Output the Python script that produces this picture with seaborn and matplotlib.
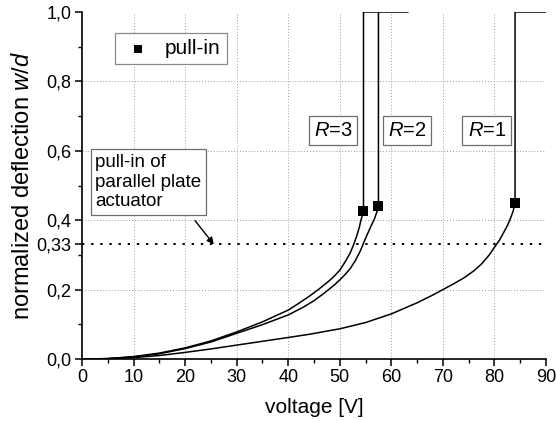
import matplotlib
matplotlib.use("Agg")
import matplotlib.pyplot as plt
import seaborn as sns
import pandas as pd
import numpy as np
from matplotlib.ticker import MultipleLocator, FixedLocator, FuncFormatter

# ---- data ----
v_r1 = [0, 5, 10, 15, 20, 25, 30, 35, 40, 44, 47, 50, 55, 60, 65, 68, 70, 72, 74, 76, 77.5, 79,
        80, 81, 81.7, 82.5, 83, 83.6, 84.0]
w_r1 = [0, 0.001, 0.004, 0.010, 0.019, 0.029, 0.040, 0.051, 0.062, 0.071, 0.079, 0.087, 0.105,
        0.130, 0.162, 0.184, 0.200, 0.216, 0.233, 0.254, 0.274, 0.300, 0.322, 0.343, 0.362,
        0.384, 0.401, 0.425, 0.449]
v_r2 = [0, 5, 10, 15, 20, 25, 30, 35, 40, 43, 45, 47, 49, 50, 51, 52, 53, 54, 54.5, 55.3,
        56.0, 56.7, 57.1, 57.4, 57.5]
w_r2 = [0, 0.001, 0.006, 0.015, 0.030, 0.049, 0.074, 0.099, 0.127, 0.150, 0.168, 0.190,
        0.214, 0.228, 0.243, 0.260, 0.283, 0.312, 0.330, 0.358, 0.381, 0.403, 0.420, 0.432,
        0.441]
v_r3 = [0, 5, 10, 15, 20, 25, 30, 35, 40, 42, 44, 46, 48, 49, 50, 51, 52, 52.7, 53.3,
        53.8, 54.1, 54.4, 54.6]
w_r3 = [0, 0.001, 0.007, 0.017, 0.032, 0.052, 0.078, 0.107, 0.141, 0.160, 0.180, 0.202,
        0.226, 0.240, 0.256, 0.279, 0.305, 0.330, 0.355, 0.380, 0.400, 0.415, 0.427]
# after pull-in the plate snaps to w/d = 1
top_end = {"R=1": 90.0, "R=2": 63.2, "R=3": 57.5}

series = ["R=1", "R=2", "R=3"]
pullin_v = [84.0, 57.5, 54.6]
pullin_w = [0.449, 0.441, 0.427]
label_v = [78.5, 63.0, 48.7]
label_w = 0.658

parallel_plate = 0.33
xticks = [0, 10, 20, 30, 40, 50, 60, 70, 80, 90]
yticks = [0.0, 0.2, 0.33, 0.4, 0.6, 0.8, 1.0]

# ---- build tables ----
rows = []
curves = {"R=1": (v_r1, w_r1), "R=2": (v_r2, w_r2), "R=3": (v_r3, w_r3)}
for name, (vv, ww) in curves.items():
    i = 0
    for v, w in zip(vv, ww):
        rows.append((name, i, v, w)); i += 1
    rows.append((name, i, vv[-1], 1.0)); i += 1
    rows.append((name, i, top_end[name], 1.0))
df = pd.DataFrame(rows, columns=["R", "order", "voltage", "w"])
pts = pd.DataFrame({"R": series, "voltage": pullin_v, "w": pullin_w})

plt.rcParams["font.family"] = ["Liberation Sans", "DejaVu Sans"]
plt.rcParams["mathtext.fontset"] = "custom"
plt.rcParams["mathtext.it"] = "Liberation Sans:italic"
plt.rcParams["mathtext.rm"] = "Liberation Sans"
fig = plt.figure(figsize=(5.56, 4.21), dpi=100)
ax = fig.add_axes([82/556, 62/421, 464/556, 347/421])

sns.lineplot(data=df, x="voltage", y="w", units="R", estimator=None, sort=False,
             color="black", lw=1.1, ax=ax, legend=False)
sns.scatterplot(data=pts, x="voltage", y="w", marker="s", color="black", s=42,
                edgecolor="black", linewidth=0, ax=ax, label="pull-in", zorder=5)

ax.axhline(parallel_plate, color="black", ls=(0, (1.2, 3.5)), lw=1.4, zorder=1)

ax.set_xlim(0, 90)
ax.set_ylim(0, 1.0)
ax.xaxis.set_major_locator(FixedLocator(xticks))
ax.xaxis.set_minor_locator(MultipleLocator(5))
ax.yaxis.set_major_locator(FixedLocator(yticks))
ax.yaxis.set_minor_locator(FixedLocator([0.1, 0.3, 0.5, 0.7, 0.9]))
ax.yaxis.set_major_formatter(FuncFormatter(
    lambda y, p: ("%.2f" % y if abs(y - 0.33) < 1e-6 else "%.1f" % y).replace(".", ",")))
ax.tick_params(axis="both", which="major", direction="out", length=5, width=1.1,
               labelsize=13, colors="black", pad=2.5)
ax.tick_params(axis="both", which="minor", direction="out", length=3, width=1.0)

for v in xticks[1:-1]:
    ax.axvline(v, color="#9a9a9a", ls=(0, (1, 2)), lw=0.7, zorder=0)
for w in [0.2, 0.4, 0.6, 0.8]:
    ax.axhline(w, color="#9a9a9a", ls=(0, (1, 2)), lw=0.7, zorder=0)

for s in ["top", "right"]:
    ax.spines[s].set_visible(False)
for s in ["left", "bottom"]:
    ax.spines[s].set_linewidth(1.2)
    ax.spines[s].set_color("black")

ax.set_xlabel("voltage [V]", fontsize=15, labelpad=8)
ax.set_ylabel("normalized deflection $w$/$d$", fontsize=17, labelpad=2)

for name, lv in zip(series, label_v):
    ax.text(lv, label_w, "$R$=" + name.split("=")[1], fontsize=14.5, ha="center", va="center",
            bbox=dict(boxstyle="square,pad=0.25", fc="white", ec="#6e6e6e", lw=0.9))

ax.text(2.6, 0.51, "pull-in of\nparallel plate\nactuator", fontsize=13.5, ha="left",
        va="center", linespacing=1.2,
        bbox=dict(boxstyle="square,pad=0.25", fc="white", ec="#6e6e6e", lw=0.9))
ax.annotate("", xy=(25.9, 0.324), xytext=(21.6, 0.405),
            arrowprops=dict(arrowstyle="-|>", color="black", lw=1.0, mutation_scale=10))

leg = ax.legend(loc="upper left", bbox_to_anchor=(0.071, 0.94), borderaxespad=0,
                fontsize=15, frameon=True, fancybox=False, edgecolor="#6e6e6e",
                handletextpad=0.5, borderpad=0.3, handlelength=1.6, markerscale=0.8)
leg.get_frame().set_linewidth(0.9)

fig.savefig("out.png", dpi=100)
